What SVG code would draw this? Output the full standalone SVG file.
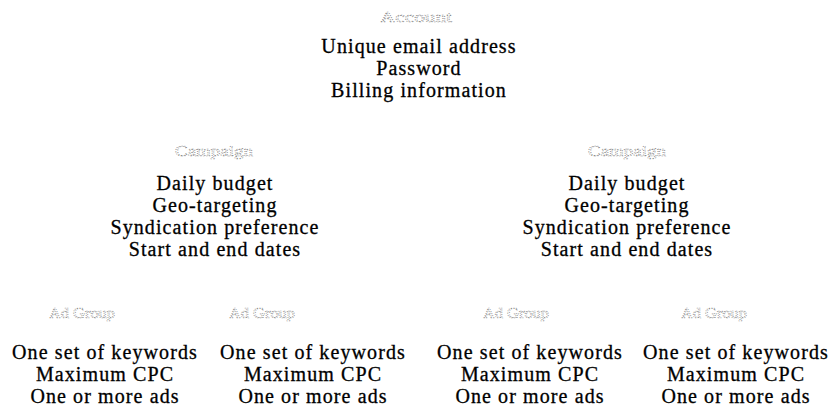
<svg xmlns="http://www.w3.org/2000/svg" width="834" height="417" viewBox="0 0 834 417">
  <style>
    .hdr { font-family: "Liberation Serif", "Times New Roman", serif; font-size: 15px; fill: #ffffff; stroke: #8a8a8a; stroke-width: 0.7; stroke-dasharray: 1 1.2; text-anchor: middle; }
    .body { font-family: "Liberation Serif", "Times New Roman", serif; font-size: 20px; fill: #000000; stroke: #000000; stroke-width: 0.3; text-anchor: middle; letter-spacing: 1.1px; }
  </style>
  <rect x="0" y="0" width="834" height="417" fill="#ffffff"/>

  <g id="account">
    <text class="hdr" x="416" y="22" textLength="72" lengthAdjust="spacingAndGlyphs">Account</text>
    <text class="body" x="419" y="53">Unique email address</text>
    <text class="body" x="419" y="75">Password</text>
    <text class="body" x="419" y="97">Billing information</text>
  </g>

  <g id="campaign-1">
    <text class="hdr" x="214" y="156" textLength="78" lengthAdjust="spacingAndGlyphs">Campaign</text>
    <text class="body" x="215" y="190">Daily budget</text>
    <text class="body" x="215" y="212">Geo-targeting</text>
    <text class="body" x="215" y="234">Syndication preference</text>
    <text class="body" x="215" y="256">Start and end dates</text>
  </g>

  <g id="campaign-2">
    <text class="hdr" x="627" y="156" textLength="78" lengthAdjust="spacingAndGlyphs">Campaign</text>
    <text class="body" x="627" y="190">Daily budget</text>
    <text class="body" x="627" y="212">Geo-targeting</text>
    <text class="body" x="627" y="234">Syndication preference</text>
    <text class="body" x="627" y="256">Start and end dates</text>
  </g>

  <g id="adgroup-1">
    <text class="hdr" x="82" y="318" textLength="66" lengthAdjust="spacingAndGlyphs">Ad Group</text>
    <text class="body" x="105" y="359">One set of keywords</text>
    <text class="body" x="105" y="381">Maximum CPC</text>
    <text class="body" x="105" y="403">One or more ads</text>
  </g>

  <g id="adgroup-2">
    <text class="hdr" x="262" y="318" textLength="66" lengthAdjust="spacingAndGlyphs">Ad Group</text>
    <text class="body" x="313" y="359">One set of keywords</text>
    <text class="body" x="313" y="381">Maximum CPC</text>
    <text class="body" x="313" y="403">One or more ads</text>
  </g>

  <g id="adgroup-3">
    <text class="hdr" x="516" y="318" textLength="66" lengthAdjust="spacingAndGlyphs">Ad Group</text>
    <text class="body" x="530" y="359">One set of keywords</text>
    <text class="body" x="530" y="381">Maximum CPC</text>
    <text class="body" x="530" y="403">One or more ads</text>
  </g>

  <g id="adgroup-4">
    <text class="hdr" x="714" y="318" textLength="66" lengthAdjust="spacingAndGlyphs">Ad Group</text>
    <text class="body" x="736" y="359">One set of keywords</text>
    <text class="body" x="736" y="381">Maximum CPC</text>
    <text class="body" x="736" y="403">One or more ads</text>
  </g>

  <g id="connectors"></g>
</svg>
